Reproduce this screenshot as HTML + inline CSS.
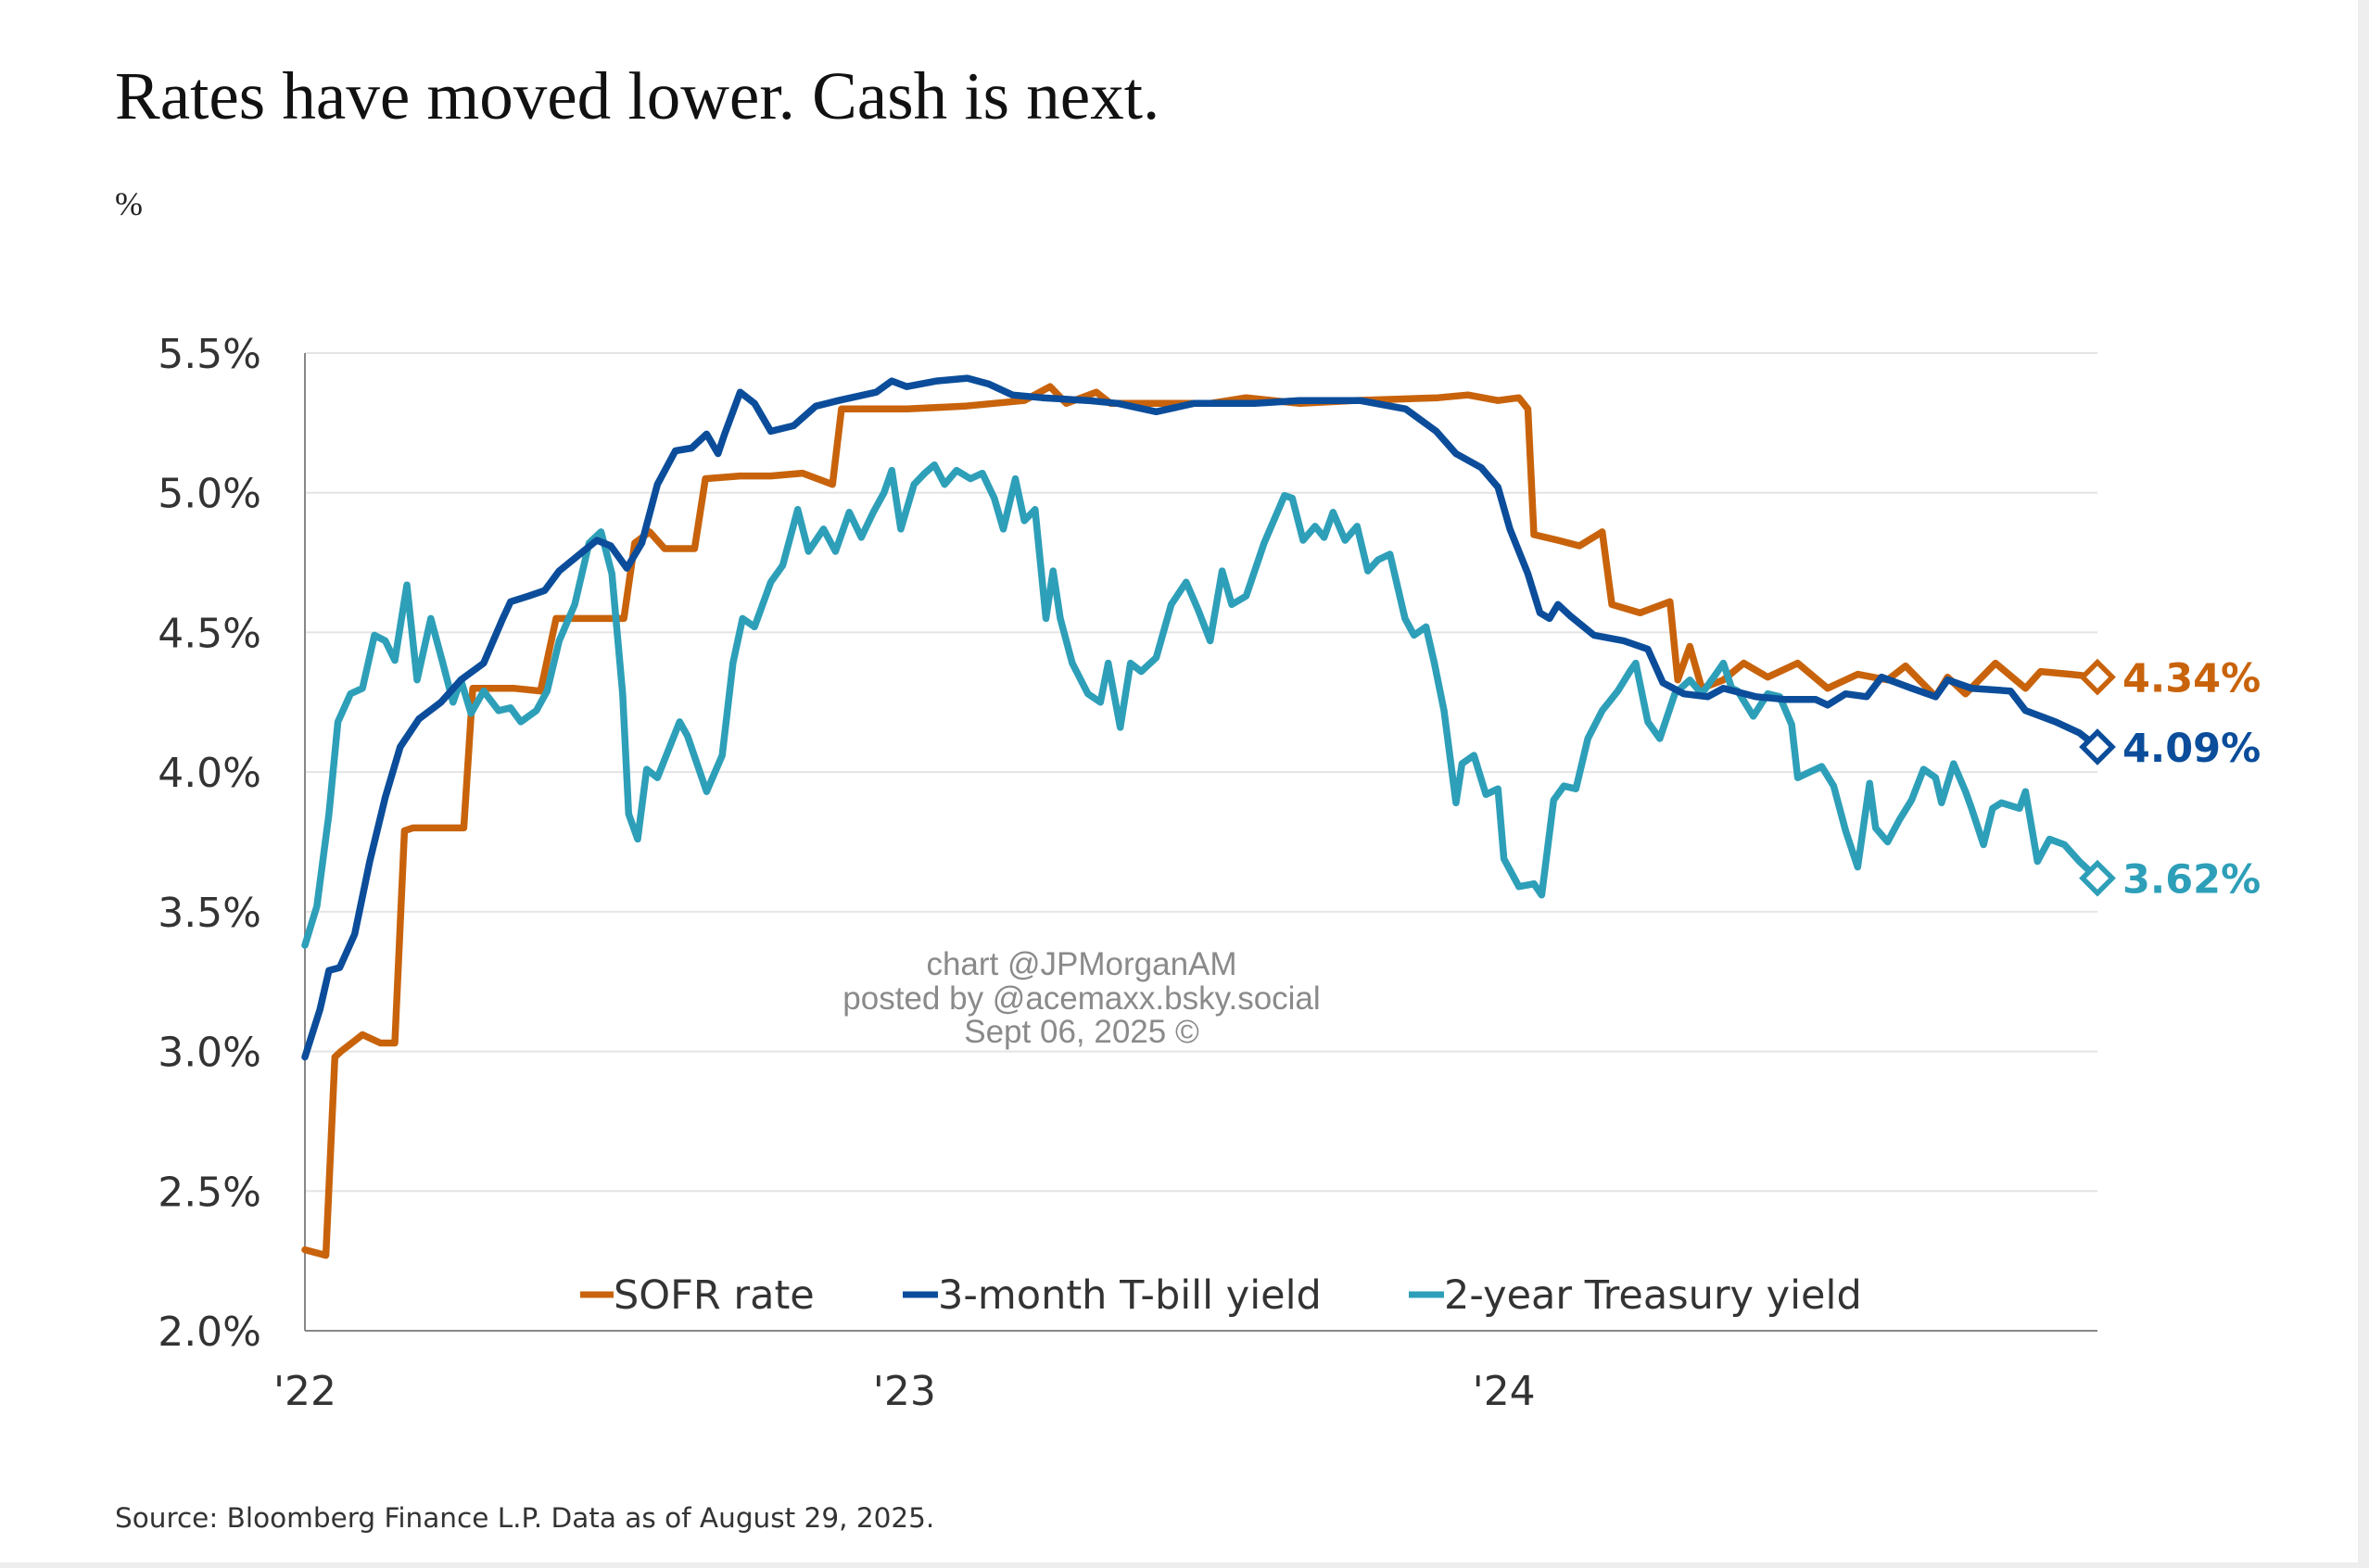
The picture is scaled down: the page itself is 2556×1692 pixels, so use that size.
<!DOCTYPE html>
<html><head><meta charset="utf-8">
<style>
html,body{margin:0;padding:0;background:#fff;}
body{width:2556px;height:1692px;overflow:hidden;position:relative;}
svg{position:absolute;left:0;top:0;}
</style></head>
<body>
<svg id="chart" width="2556" height="1692" viewBox="0 0 2556 1692">
  <rect x="0" y="0" width="2556" height="1692" fill="#fff"/>
  <rect x="2544" y="0" width="12" height="1692" fill="#eeeeee"/>
  <rect x="0" y="1686" width="2556" height="6" fill="#eeeeee"/>
  <text x="124" y="128" font-family="Liberation Serif, serif" font-size="73" fill="#111">Rates have moved lower. Cash is next.</text>
  <text x="124" y="232" font-family="Liberation Serif, serif" font-size="36" fill="#222">%</text>
  <g id="grid"></g>
  <g id="yticks"></g>
  <g id="xticks"></g>
  <g id="series"></g>
  <g id="legend" font-family="DejaVu Sans, Liberation Sans, sans-serif" font-size="43" fill="#333">
    <line x1="626" y1="1397" x2="662" y2="1397" stroke="#C8630C" stroke-width="7"/>
    <text x="662" y="1412">SOFR rate</text>
    <line x1="974" y1="1397" x2="1012" y2="1397" stroke="#0B4D9A" stroke-width="7"/>
    <text x="1012" y="1412">3-month T-bill yield</text>
    <line x1="1520" y1="1397" x2="1558" y2="1397" stroke="#2E9FB8" stroke-width="7"/>
    <text x="1558" y="1412">2-year Treasury yield</text>
  </g>
  <g font-family="Liberation Sans, sans-serif" font-size="35" fill="#8a8a8a" text-anchor="middle">
    <text x="1167" y="1052">chart @JPMorganAM</text>
    <text x="1167" y="1089">posted by @acemaxx.bsky.social</text>
    <text x="1167" y="1125">Sept 06, 2025 ©</text>
  </g>
  <text x="124" y="1648" font-family="DejaVu Sans, Liberation Sans, sans-serif" font-size="29.5" fill="#333">Source: Bloomberg Finance L.P. Data as of August 29, 2025.</text>
</svg>
<script>
const yTicks = [2.0, 2.5, 3.0, 3.5, 4.0, 4.5, 5.0, 5.5];
const xTickLabels = ["'22", "'23", "'24"];
const xTickValues = [0, 1, 2];

const sofrT = [0,0.035,0.05,0.06,0.096,0.126,0.15,0.166,0.18,0.222,0.265,0.28,0.348,0.393,0.419,0.45,0.532,0.55,0.575,0.6,0.65,0.668,0.726,0.777,0.83,0.88,0.895,1.004,1.1,1.2,1.243,1.27,1.32,1.344,1.51,1.57,1.66,1.75,1.89,1.94,1.99,2.025,2.04,2.05,2.09,2.126,2.164,2.18,2.227,2.277,2.29,2.31,2.33,2.366,2.40,2.44,2.49,2.54,2.59,2.64,2.67,2.72,2.74,2.77,2.82,2.87,2.895,2.945,2.99];
const sofrV = [2.29,2.27,2.98,3.0,3.06,3.03,3.03,3.79,3.80,3.80,3.80,4.30,4.30,4.29,4.55,4.55,4.55,4.82,4.86,4.80,4.80,5.05,5.06,5.06,5.07,5.03,5.30,5.30,5.31,5.33,5.38,5.32,5.36,5.32,5.32,5.34,5.32,5.33,5.34,5.35,5.33,5.34,5.30,4.85,4.83,4.81,4.86,4.60,4.57,4.61,4.33,4.45,4.30,4.33,4.39,4.34,4.39,4.30,4.35,4.33,4.38,4.27,4.34,4.28,4.39,4.30,4.36,4.35,4.34];

const tbillT = [0,0.025,0.04,0.058,0.083,0.108,0.134,0.159,0.19,0.227,0.26,0.298,0.33,0.343,0.373,0.40,0.424,0.487,0.51,0.537,0.562,0.588,0.618,0.645,0.67,0.689,0.70,0.726,0.75,0.777,0.815,0.852,0.89,0.953,0.979,1.004,1.054,1.105,1.14,1.18,1.23,1.306,1.356,1.42,1.483,1.584,1.66,1.76,1.836,1.887,1.92,1.962,1.99,2.01,2.04,2.06,2.076,2.09,2.11,2.15,2.2,2.24,2.265,2.30,2.34,2.366,2.42,2.47,2.52,2.54,2.57,2.605,2.63,2.68,2.72,2.74,2.78,2.845,2.87,2.92,2.96,2.99];
const tbillV = [2.98,3.15,3.29,3.30,3.42,3.68,3.91,4.09,4.19,4.25,4.33,4.39,4.55,4.61,4.63,4.65,4.72,4.83,4.81,4.73,4.82,5.03,5.15,5.16,5.21,5.14,5.21,5.36,5.32,5.22,5.24,5.31,5.33,5.36,5.40,5.38,5.40,5.41,5.39,5.35,5.34,5.33,5.32,5.29,5.32,5.32,5.33,5.33,5.30,5.22,5.14,5.09,5.02,4.87,4.71,4.57,4.55,4.60,4.56,4.49,4.47,4.44,4.32,4.28,4.27,4.30,4.27,4.26,4.26,4.24,4.28,4.27,4.34,4.30,4.27,4.33,4.30,4.29,4.22,4.18,4.14,4.09];

const twoYrT = [0,0.02,0.04,0.055,0.076,0.096,0.116,0.134,0.15,0.17,0.187,0.21,0.23,0.247,0.26,0.277,0.298,0.323,0.343,0.36,0.386,0.404,0.424,0.45,0.474,0.494,0.512,0.53,0.54,0.555,0.57,0.588,0.625,0.638,0.67,0.696,0.714,0.73,0.75,0.777,0.797,0.822,0.84,0.865,0.885,0.908,0.928,0.948,0.966,0.979,0.994,1.016,1.034,1.05,1.067,1.087,1.11,1.13,1.15,1.165,1.185,1.2,1.218,1.236,1.248,1.26,1.28,1.306,1.327,1.34,1.36,1.377,1.395,1.42,1.445,1.47,1.49,1.51,1.53,1.546,1.57,1.6,1.634,1.647,1.665,1.685,1.70,1.715,1.735,1.755,1.773,1.79,1.81,1.835,1.85,1.87,1.884,1.90,1.92,1.93,1.95,1.97,1.99,2.00,2.025,2.05,2.063,2.083,2.10,2.12,2.14,2.164,2.19,2.21,2.22,2.24,2.26,2.285,2.31,2.33,2.35,2.366,2.38,2.39,2.416,2.44,2.46,2.48,2.49,2.51,2.53,2.55,2.57,2.59,2.61,2.62,2.64,2.66,2.68,2.70,2.72,2.73,2.75,2.77,2.78,2.80,2.815,2.83,2.86,2.87,2.89,2.91,2.935,2.96,2.99];
const twoYrV = [3.38,3.52,3.85,4.18,4.28,4.30,4.49,4.47,4.40,4.67,4.33,4.55,4.39,4.25,4.33,4.21,4.29,4.22,4.23,4.18,4.22,4.29,4.47,4.60,4.82,4.86,4.71,4.28,3.85,3.76,4.01,3.98,4.18,4.13,3.93,4.06,4.39,4.55,4.52,4.68,4.74,4.94,4.79,4.87,4.79,4.93,4.84,4.93,5.00,5.08,4.87,5.03,5.07,5.10,5.03,5.08,5.05,5.07,4.98,4.87,5.05,4.90,4.94,4.55,4.72,4.55,4.39,4.28,4.25,4.39,4.16,4.39,4.36,4.41,4.60,4.68,4.58,4.47,4.72,4.60,4.63,4.82,4.99,4.98,4.83,4.88,4.84,4.93,4.83,4.88,4.72,4.76,4.78,4.55,4.49,4.52,4.39,4.22,3.89,4.03,4.06,3.92,3.94,3.69,3.59,3.60,3.56,3.90,3.95,3.94,4.12,4.22,4.29,4.36,4.39,4.18,4.12,4.28,4.33,4.28,4.34,4.39,4.30,4.29,4.20,4.28,4.27,4.17,3.98,4.00,4.02,3.95,3.79,3.66,3.96,3.80,3.75,3.83,3.90,4.01,3.98,3.89,4.03,3.93,3.87,3.74,3.87,3.89,3.87,3.93,3.68,3.76,3.74,3.68,3.62];

const endLabels = ["4.34%", "4.09%", "3.62%"];

const NS = "http://www.w3.org/2000/svg";
const X0 = 329, X1 = 2263, TMAX = 2.99;
const Y0 = 1436, Y1 = 381, VMIN = 2.0, VMAX = 5.5;
function xs(t){ return X0 + t / TMAX * (X1 - X0); }
function ys(v){ return Y0 - (v - VMIN) / (VMAX - VMIN) * (Y0 - Y1); }
function mk(tag, attrs, parent){ const e = document.createElementNS(NS, tag); for (const k in attrs) e.setAttribute(k, attrs[k]); parent.appendChild(e); return e; }

const grid = document.getElementById('grid');
const yt = document.getElementById('yticks');
yTicks.forEach(v => {
  if (v > VMIN) {
    const gl = mk('line', {x1: X0, x2: X1, y1: ys(v), y2: ys(v), stroke: '#e4e4e4', 'stroke-width': 2}, grid);
    
    
  }
  const t = mk('text', {x: 282, y: ys(v) + 16, 'text-anchor': 'end', 'font-family': 'DejaVu Sans, Liberation Sans, sans-serif', 'font-size': 44, fill: '#333'}, yt);
  t.textContent = v.toFixed(1) + '%';
  
  
});
const ax = mk('line', {x1: X0, x2: X0, y1: Y1, y2: Y0, stroke: '#888', 'stroke-width': 2}, grid);


const bx = mk('line', {x1: X0, x2: X1, y1: Y0, y2: Y0, stroke: '#888', 'stroke-width': 2}, grid);



const xt = document.getElementById('xticks');
xTickValues.forEach((t, i) => {
  const e = mk('text', {x: xs(t), y: 1516, 'text-anchor': 'middle', 'font-family': 'DejaVu Sans, Liberation Sans, sans-serif', 'font-size': 44, fill: '#333'}, xt);
  e.textContent = xTickLabels[i];
  
  
});

const sg = document.getElementById('series');
const defs = [
  {T: sofrT, V: sofrV, c: '#C8630C', name: 'sofr-line', lab: endLabels[0]},
  {T: twoYrT, V: twoYrV, c: '#2E9FB8', name: 'two-year-line', lab: endLabels[2]},
  {T: tbillT, V: tbillV, c: '#0B4D9A', name: 'tbill-line', lab: endLabels[1]}
];
defs.forEach(d => {
  const pts = d.T.map((t, i) => xs(t).toFixed(1) + ',' + ys(d.V[i]).toFixed(1)).join(' ');
  const pl = mk('polyline', {points: pts, fill: 'none', stroke: d.c, 'stroke-width': 7.5, 'stroke-linejoin': 'round', 'stroke-linecap': 'round'}, sg);
  
  
  const lt = d.T[d.T.length - 1], lv = d.V[d.V.length - 1];
  const cx = xs(lt), cy = ys(lv), r = 16;
  const dm = mk('polygon', {points: `${cx},${cy-r} ${cx+r},${cy} ${cx},${cy+r} ${cx-r},${cy}`, fill: '#fff', stroke: d.c, 'stroke-width': 5.5}, sg);
  
  
  const tx = mk('text', {x: cx + 27, y: cy + 16, 'font-family': 'DejaVu Sans, Liberation Sans, sans-serif', 'font-size': 43, 'font-weight': 'bold', fill: d.c}, sg);
  tx.textContent = d.lab;
  
  
});
</script>
</body></html>
